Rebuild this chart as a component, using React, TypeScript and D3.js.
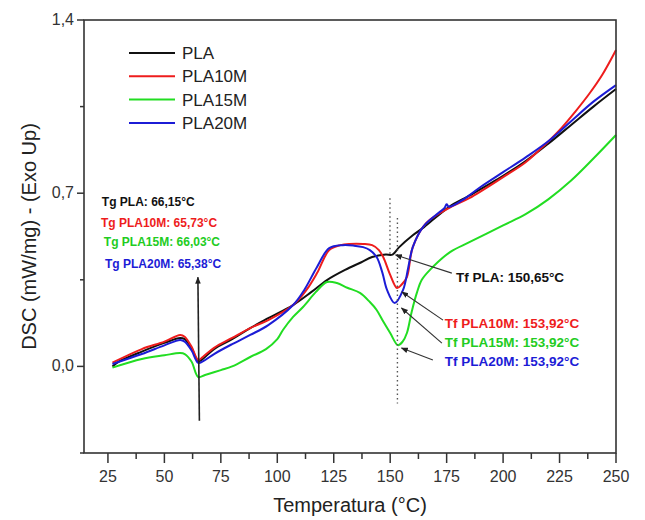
import React from "react";
import * as d3 from "d3";

// DSC curves, [temperature °C, mW/mg]
const pla: [number, number][] = [
  [27, 0.0], [30, 0.02], [40, 0.06], [50, 0.095], [57, 0.115], [59, 0.11], [62, 0.075], [65, 0.02],
  [67, 0.03], [72, 0.07], [80, 0.11], [88, 0.155], [96, 0.195], [107, 0.248], [115, 0.3], [122, 0.349],
  [130, 0.39], [137, 0.42], [142, 0.442], [148, 0.452], [151, 0.452], [154, 0.482], [160, 0.53],
  [165, 0.563], [176, 0.644], [185, 0.69], [200, 0.77], [210, 0.83], [220, 0.9], [230, 0.975],
  [240, 1.05], [250, 1.121]
];
const pla10m: [number, number][] = [
  [27, 0.015], [40, 0.07], [50, 0.1], [57, 0.127], [59, 0.12], [62, 0.08], [65, 0.026], [67, 0.038],
  [72, 0.075], [80, 0.115], [88, 0.155], [96, 0.187], [107, 0.248], [113, 0.31], [117.6, 0.377],
  [123, 0.47], [128, 0.49], [132, 0.495], [138, 0.495], [142, 0.49], [145, 0.47], [147, 0.44],
  [150, 0.37], [153, 0.317], [155, 0.33], [157.4, 0.361], [160, 0.482], [166, 0.58], [176, 0.64],
  [185, 0.68], [200, 0.765], [210, 0.825], [219, 0.9], [226, 0.965], [232, 1.03], [238, 1.1],
  [244, 1.18], [250, 1.279]
];
const pla15m: [number, number][] = [
  [27, -0.005], [40, 0.03], [50, 0.045], [57, 0.054], [59, 0.05], [62, 0.02], [65, -0.043],
  [68, -0.035], [75, -0.015], [80, 0.0], [88, 0.038], [95, 0.07], [100, 0.11], [102.5, 0.147],
  [107, 0.2], [111.4, 0.24], [117, 0.3], [122, 0.341], [126.4, 0.337], [131, 0.318], [136.6, 0.297],
  [141, 0.26], [144, 0.228], [147, 0.18], [150, 0.135], [153.4, 0.086], [155.5, 0.1], [157.4, 0.135],
  [159.5, 0.22], [161.8, 0.297], [164, 0.35], [167.6, 0.39], [176.5, 0.462], [185.3, 0.503],
  [200, 0.57], [210, 0.615], [220, 0.675], [230, 0.75], [240, 0.84], [250, 0.935]
];
const pla20m: [number, number][] = [
  [27, 0.01], [40, 0.05], [50, 0.085], [57, 0.107], [59, 0.1], [62, 0.065], [65, 0.014], [67, 0.02],
  [72, 0.05], [80, 0.09], [88, 0.127], [96, 0.167], [107, 0.248], [112, 0.31], [117.6, 0.402],
  [123, 0.478], [129, 0.49], [134, 0.488], [138, 0.482], [141, 0.47], [144, 0.442], [146.5, 0.38],
  [148.6, 0.309], [152, 0.256], [155.7, 0.309], [158, 0.4], [160, 0.482], [164.5, 0.563], [170, 0.61],
  [174, 0.64], [175, 0.655], [176, 0.645], [182, 0.672], [190, 0.725], [200, 0.785], [210, 0.845],
  [220, 0.91], [230, 0.99], [240, 1.07], [250, 1.137]
];

const seriesNames = ["PLA", "PLA10M", "PLA15M", "PLA20M"];
const seriesColors = ["#111111", "#ee1c1c", "#22dd22", "#1c1cd6"];
const seriesData = [pla, pla10m, pla15m, pla20m];

const xTicks = [25, 50, 75, 100, 125, 150, 175, 200, 225, 250];
const yTicks = [0.0, 0.7, 1.4];
const yMinorTicks = [-0.35, 0.35, 1.05];

// annotations (data units)
const tgLabels = [
  { text: "Tg PLA: 66,15°C", x: 22.3, y: 0.648, color: "#111111" },
  { text: "Tg PLA10M: 65,73°C", x: 21.9, y: 0.563, color: "#ee1c1c" },
  { text: "Tg PLA15M: 66,03°C", x: 23.2, y: 0.486, color: "#22cc22" },
  { text: "Tg PLA20M: 65,38°C", x: 23.7, y: 0.398, color: "#1c1cd6" }
];
const tgArrow = { x: 65.5, from: -0.22, to: 0.36 };
const tfLines = [
  { x: 149.9, top: 0.68, bottom: 0.45 },
  { x: 153.2, top: 0.6, bottom: -0.15 }
];
const tfLabels = [
  { text: "Tf PLA: 150,65°C", x: 179.1, y: 0.341, color: "#111111" },
  { text: "Tf PLA10M: 153,92°C", x: 174.2, y: 0.155, color: "#ee1c1c" },
  { text: "Tf PLA15M: 153,92°C", x: 174.2, y: 0.078, color: "#22cc22" },
  { text: "Tf PLA20M: 153,92°C", x: 174.2, y: 0.001, color: "#1c1cd6" }
];
const tfArrows = [
  { x1: 177.3, y1: 0.377, x2: 152.4, y2: 0.45 },
  { x1: 173.4, y1: 0.187, x2: 155.2, y2: 0.301 },
  { x1: 172.9, y1: 0.094, x2: 155.0, y2: 0.236 },
  { x1: 168.9, y1: 0.026, x2: 155.0, y2: 0.074 }
];

const W = 645;
const H = 520;
const left = 84, right = 616, top = 20, bottom = 453;
const font = "'Liberation Sans', Arial, Helvetica, sans-serif";
const fmt = (v: number) => v.toFixed(1).replace(".", ",");

export default function App() {
  const x = d3.scaleLinear().domain([14.4, 250]).range([left, right]);
  const y = d3.scaleLinear().domain([-0.35, 1.4]).range([bottom, top]);
  const line = d3
    .line<[number, number]>()
    .x((d) => x(d[0]))
    .y((d) => y(d[1]))
    .curve(d3.curveCatmullRom.alpha(0.5));

  const minorX = d3.range(37.5, 250, 25);

  return (
    <svg width={W} height={H} style={{ position: "absolute", left: 0, top: 0, background: "#fff" }}
      fontFamily={font}>
      <defs>
        <marker id="ah" viewBox="0 0 10 10" refX="9" refY="5" markerWidth="7" markerHeight="7"
          orient="auto-start-reverse" markerUnits="userSpaceOnUse">
          <path d="M0,1 L10,5 L0,9 z" fill="#222" />
        </marker>
      </defs>

      {/* curves */}
      {seriesData.map((d, i) => (
        <path key={i} d={line(d) || ""} fill="none" stroke={seriesColors[i]} strokeWidth={2} />
      ))}

      {/* Tf dotted lines */}
      {tfLines.map((t, i) => (
        <line key={i} x1={x(t.x)} x2={x(t.x)} y1={y(t.top)} y2={y(t.bottom)}
          stroke="#555" strokeWidth={1.4} strokeDasharray="1.5,3" />
      ))}

      {/* Tg arrow */}
      <line x1={x(tgArrow.x)} x2={x(tgArrow.x) - 1.5} y1={y(tgArrow.from)} y2={y(tgArrow.to)}
        stroke="#222" strokeWidth={1.6} markerEnd="url(#ah)" />

      {/* Tf arrows */}
      {tfArrows.map((a, i) => (
        <line key={i} x1={x(a.x1)} y1={y(a.y1)} x2={x(a.x2)} y2={y(a.y2)}
          stroke="#333" strokeWidth={1.1} markerEnd="url(#ah)" />
      ))}

      {/* labels */}
      {tgLabels.map((t, i) => (
        <text key={i} x={x(t.x)} y={y(t.y)} fill={t.color} fontSize={12} fontWeight="bold">{t.text}</text>
      ))}
      {tfLabels.map((t, i) => (
        <text key={i} x={x(t.x)} y={y(t.y)} fill={t.color} fontSize={13.5} fontWeight="bold">{t.text}</text>
      ))}

      {/* frame */}
      <rect x={left} y={top} width={right - left} height={bottom - top} fill="none" stroke="#333" strokeWidth={1.6} />

      {/* x ticks */}
      {xTicks.map((t) => (
        <g key={t}>
          <line x1={x(t)} x2={x(t)} y1={bottom} y2={bottom + 10} stroke="#333" strokeWidth={1.5} />
          <text x={x(t)} y={bottom + 29} textAnchor="middle" fontSize={16} fill="#333">{t}</text>
        </g>
      ))}
      {minorX.map((t) => (
        <line key={t} x1={x(t)} x2={x(t)} y1={bottom} y2={bottom + 6} stroke="#333" strokeWidth={1.5} />
      ))}

      {/* y ticks */}
      {yTicks.map((t) => (
        <g key={t}>
          <line x1={left - 7} x2={left} y1={y(t)} y2={y(t)} stroke="#333" strokeWidth={1.5} />
          <text x={left - 10} y={y(t) + 5} textAnchor="end" fontSize={16} fill="#333">{fmt(t)}</text>
        </g>
      ))}
      {yMinorTicks.map((t) => (
        <line key={t} x1={left - 4} x2={left} y1={y(t)} y2={y(t)} stroke="#333" strokeWidth={1.5} />
      ))}

      {/* axis titles */}
      <text x={(left + right) / 2} y={512} textAnchor="middle" fontSize={20} fill="#222">Temperatura (°C)</text>
      <text transform={`translate(36,${(top + bottom) / 2}) rotate(-90)`} textAnchor="middle" fontSize={20} fill="#222">
        DSC (mW/mg) - (Exo Up)
      </text>

      {/* legend */}
      {seriesNames.map((n, i) => (
        <g key={n} transform={`translate(129,${53 + i * 23.3})`}>
          <line x1={0} x2={46} y1={0} y2={0} stroke={seriesColors[i]} strokeWidth={2} />
          <text x={53} y={6} fontSize={17} fill="#222">{n}</text>
        </g>
      ))}
    </svg>
  );
}
